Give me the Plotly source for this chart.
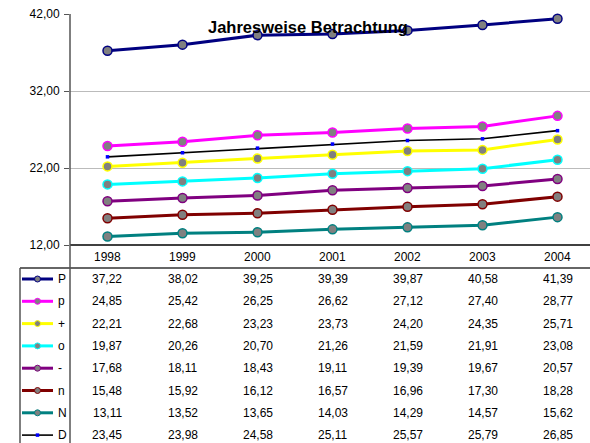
import plotly.graph_objects as go

years = ["1998", "1999", "2000", "2001", "2002", "2003", "2004"]
series_names = ["P", "p", "+", "o", "-", "n", "N", "D"]
P = [37.22, 38.02, 39.25, 39.39, 39.87, 40.58, 41.39]
p = [24.85, 25.42, 26.25, 26.62, 27.12, 27.40, 28.77]
plus = [22.21, 22.68, 23.23, 23.73, 24.20, 24.35, 25.71]
o = [19.87, 20.26, 20.70, 21.26, 21.59, 21.91, 23.08]
minus = [17.68, 18.11, 18.43, 19.11, 19.39, 19.67, 20.57]
n = [15.48, 15.92, 16.12, 16.57, 16.96, 17.30, 18.28]
N = [13.11, 13.52, 13.65, 14.03, 14.29, 14.57, 15.62]
D = [23.45, 23.98, 24.58, 25.11, 25.57, 25.79, 26.85]
y_ticks = [12, 22, 32, 42]
title = "Jahresweise Betrachtung"

values = [P, p, plus, o, minus, n, N, D]
line_colors = ["#000080", "#FF00FF", "#FFFF00", "#00FFFF", "#800080", "#800000", "#008080", "#000000"]
FONT = "Liberation Sans, Arial, sans-serif"
W, H = 590, 443

# plot area geometry (pixels)
X0, Y_TOP, Y_BOT = 70, 14, 245
CAT_W = 75
TABLE_TOP = 268
ROW0, ROW_STEP = 279, 22.3


def fx(x):
    return x / W


def fy(y):
    return 1 - y / H


fig = go.Figure()

order = [7, 0, 1, 2, 3, 4, 5, 6]
for i in order:
    name = series_names[i]
    if name == "D":
        fig.add_trace(go.Scatter(
            x=list(range(len(years))), y=values[i], mode="lines+markers",
            line=dict(color="#000000", width=1.6),
            marker=dict(symbol="square", size=3.5, color="#0000FF", line=dict(width=0)),
            showlegend=False, hoverinfo="skip", cliponaxis=False))
    else:
        fig.add_trace(go.Scatter(
            x=list(range(len(years))), y=values[i], mode="lines+markers",
            line=dict(color=line_colors[i], width=3),
            marker=dict(symbol="circle", size=9, color="#808080",
                        line=dict(color=line_colors[i], width=1.5)),
            showlegend=False, hoverinfo="skip", cliponaxis=False))

# legend swatches on a pixel overlay axis
for r, name in enumerate(series_names):
    yy = ROW0 + r * ROW_STEP
    if name == "D":
        fig.add_trace(go.Scatter(
            x=[22, 53], y=[yy, yy], mode="lines", line=dict(color="#000000", width=1.6),
            xaxis="x2", yaxis="y2", showlegend=False, hoverinfo="skip"))
        fig.add_trace(go.Scatter(
            x=[37.5], y=[yy], mode="markers",
            marker=dict(symbol="square", size=3.5, color="#0000FF"),
            xaxis="x2", yaxis="y2", showlegend=False, hoverinfo="skip"))
    else:
        fig.add_trace(go.Scatter(
            x=[22, 53], y=[yy, yy], mode="lines", line=dict(color=line_colors[r], width=3),
            xaxis="x2", yaxis="y2", showlegend=False, hoverinfo="skip"))
        fig.add_trace(go.Scatter(
            x=[37.5], y=[yy], mode="markers",
            marker=dict(symbol="circle", size=6, color="#808080",
                        line=dict(color=line_colors[r], width=1)),
            xaxis="x2", yaxis="y2", showlegend=False, hoverinfo="skip"))

shapes = []
shapes.append(dict(type="line", xref="paper", yref="paper", x0=fx(X0), x1=1, y0=fy(Y_BOT), y1=fy(Y_BOT),
                   line=dict(color="#000000", width=1.5)))
shapes.append(dict(type="line", xref="paper", yref="paper", x0=fx(20), x1=1, y0=fy(TABLE_TOP), y1=fy(TABLE_TOP),
                   line=dict(color="#333333", width=1.5)))
shapes.append(dict(type="line", xref="paper", yref="paper", x0=fx(X0), x1=fx(X0), y0=fy(Y_TOP), y1=0,
                   line=dict(color="#555555", width=1.5)))
shapes.append(dict(type="line", xref="paper", yref="paper", x0=fx(20), x1=fx(20), y0=fy(TABLE_TOP), y1=0,
                   line=dict(color="#555555", width=1.5)))

annotations = []
annotations.append(dict(text="<b>" + title + "</b>", x=fx(308), y=fy(27), xref="paper", yref="paper",
                        showarrow=False, font=dict(family=FONT, size=16.5, color="#000000"),
                        xanchor="center", yanchor="middle"))
for c, yr in enumerate(years):
    annotations.append(dict(text=yr, x=fx(X0 + CAT_W * (c + 0.5)), y=fy(256.5), xref="paper", yref="paper",
                            showarrow=False, font=dict(family=FONT, size=12, color="#000000"),
                            xanchor="center", yanchor="middle"))
for r, name in enumerate(series_names):
    yy = ROW0 + r * ROW_STEP
    annotations.append(dict(text=name, x=fx(56), y=fy(yy), xref="paper", yref="paper",
                            showarrow=False, font=dict(family=FONT, size=12, color="#000000"),
                            xanchor="left", yanchor="middle"))
    for c, v in enumerate(values[r]):
        annotations.append(dict(text=f"{v:.2f}".replace(".", ","), x=fx(X0 + CAT_W * (c + 0.5)), y=fy(yy),
                                xref="paper", yref="paper", showarrow=False,
                                font=dict(family=FONT, size=12, color="#000000"),
                                xanchor="center", yanchor="middle"))

plot_w = W - X0
fig.update_layout(
    template="none",
    width=W, height=H,
    margin=dict(l=0, r=0, t=0, b=0, pad=0, autoexpand=False),
    paper_bgcolor="#FFFFFF", plot_bgcolor="rgba(0,0,0,0)",
    separators=",.",
    xaxis=dict(domain=[fx(X0), 1], range=[-0.5, -0.5 + plot_w / CAT_W], showgrid=False,
               showticklabels=False, zeroline=False, showline=False, ticks="", automargin=False),
    yaxis=dict(domain=[fy(Y_BOT), fy(Y_TOP)], range=[12, 42], tickvals=y_ticks,
               tickformat=".2f", showgrid=True, gridcolor="#BBBBBB", gridwidth=1,
               zeroline=False, showline=False, ticks="outside", ticklen=5, tickcolor="#555555",
               tickfont=dict(family=FONT, size=12, color="#000000"), ticklabelstandoff=2,
               automargin=False),
    xaxis2=dict(domain=[0, 1], range=[0, W], visible=False, anchor="y2", automargin=False),
    yaxis2=dict(domain=[0, 1], range=[H, 0], visible=False, anchor="x2", automargin=False),
    shapes=shapes, annotations=annotations,
)

fig.write_html("out.html", config={"displayModeBar": False},
               post_script="document.body.style.margin='0';document.body.style.overflow='hidden';")
